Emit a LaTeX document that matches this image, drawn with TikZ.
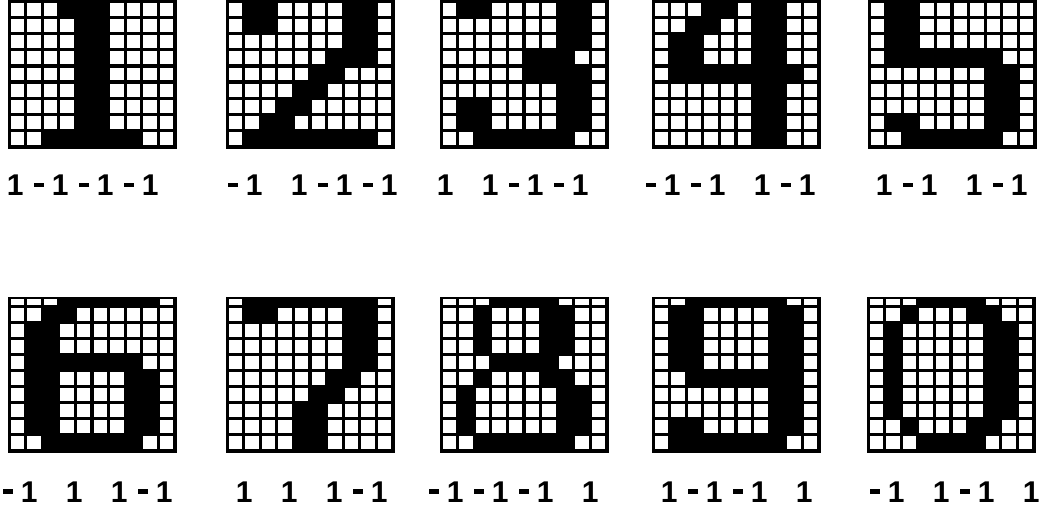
\documentclass[tikz,border=0pt]{standalone}
\usepackage{fontspec}
\setsansfont{Liberation Sans}
\newcommand\mn{\rule[8.5pt]{10pt}{4.2pt}}
\newcommand\pv{\makebox[45pt][r]{1}}
\newcommand\nv{\makebox[45pt][r]{\mn\hspace{7.5pt}1}}
\newcommand\digitgrid[5]{% #1 left, #2 top of row 1, #3 bg top, #4 bg bottom, #5 rows
  \fill[gridbg] ({#1-1.5},#3) rectangle ({#1+167.5},#4);
  \foreach \row [count=\r] in {#5} {
    \foreach \v [count=\c] in \row {
      \ifnum\v=0
        \fill[cellw] ({#1+(\c-1)*16.6+1.6},{#2+(\r-1)*16.1+1.6}) rectangle ({#1+\c*16.6-1.6},{#2+\r*16.1-1.6});
      \fi
    }
  }
}
\newcommand\partrow[2]{% #1 left, #2 pattern (row clipped at top)
  \foreach \v [count=\c] in {#2} {
    \ifnum\v=0
      \fill[cellw] ({#1+(\c-1)*16.6+1.6},299.0) rectangle ({#1+\c*16.6-1.6},304.6);
    \fi
  }
}
\tikzset{
  gridbg/.style={fill=black},
  cellw/.style={fill=white},
  lbl/.style={font=\sffamily\bfseries\fontsize{30}{30}\selectfont, inner sep=0pt, anchor=base west},
}
\begin{document}
\begin{tikzpicture}[x=1pt,y=-1pt]
\useasboundingbox (0,0) rectangle (1043,514);
\fill[white] (0,0) rectangle (1043,514);
\begin{scope}
\clip (0,0) rectangle (1043,514);
% ---- top row of grids (9 visible rows) ----
\digitgrid{9}{1.5}{-1}{148.5}{
 {0,0,0,1,1,1,0,0,0,0},{0,0,0,0,1,1,0,0,0,0},{0,0,0,0,1,1,0,0,0,0},
 {0,0,0,0,1,1,0,0,0,0},{0,0,0,0,1,1,0,0,0,0},{0,0,0,0,1,1,0,0,0,0},
 {0,0,0,0,1,1,0,0,0,0},{0,0,0,0,1,1,0,0,0,0},{0,0,1,1,1,1,1,1,0,0}}
\digitgrid{227}{1.5}{-1}{148.5}{
 {0,1,1,0,0,0,0,1,1,0},{0,1,1,0,0,0,0,1,1,0},{0,0,0,0,0,0,0,1,1,0},
 {0,0,0,0,0,0,1,1,1,0},{0,0,0,0,0,1,1,0,0,0},{0,0,0,0,1,1,0,0,0,0},
 {0,0,0,1,1,0,0,0,0,0},{0,0,1,1,0,0,0,0,0,0},{0,1,1,1,1,1,1,1,1,0}}
\digitgrid{441}{1.5}{-1}{148.5}{
 {0,1,1,0,0,0,0,1,1,0},{0,0,0,0,0,0,0,1,1,0},{0,0,0,0,0,0,0,1,1,0},
 {0,0,0,0,0,1,1,1,0,0},{0,0,0,0,0,1,1,1,1,0},{0,0,0,0,0,0,0,1,1,0},
 {0,1,1,0,0,0,0,1,1,0},{0,1,1,0,0,0,0,1,1,0},{0,0,1,1,1,1,1,1,0,0}}
\digitgrid{653}{1.5}{-1}{148.5}{
 {0,0,0,1,1,0,1,1,0,0},{0,0,1,1,0,0,1,1,0,0},{0,1,1,0,0,0,1,1,0,0},
 {0,1,1,0,0,0,1,1,0,0},{0,1,1,1,1,1,1,1,1,0},{0,0,0,0,0,0,1,1,0,0},
 {0,0,0,0,0,0,1,1,0,0},{0,0,0,0,0,0,1,1,0,0},{0,0,0,0,0,0,1,1,0,0}}
\digitgrid{869}{1.5}{-1}{148.5}{
 {0,1,1,0,0,0,0,0,0,0},{0,1,1,0,0,0,0,0,0,0},{0,1,1,0,0,0,0,0,0,0},
 {0,1,1,1,1,1,1,1,0,0},{0,0,0,0,0,0,0,1,1,0},{0,0,0,0,0,0,0,1,1,0},
 {0,0,0,0,0,0,0,1,1,0},{0,1,1,0,0,0,0,1,1,0},{0,0,1,1,1,1,1,1,0,0}}
% ---- bottom row of grids (clipped top row + 9 rows) ----
\digitgrid{9}{306}{297}{452.6}{
 {0,0,1,1,0,0,0,0,0,0},{0,1,1,0,0,0,0,0,0,0},{0,1,1,0,0,0,0,0,0,0},
 {0,1,1,1,1,1,1,1,0,0},{0,1,1,0,0,0,0,1,1,0},{0,1,1,0,0,0,0,1,1,0},
 {0,1,1,0,0,0,0,1,1,0},{0,1,1,0,0,0,0,1,1,0},{0,0,1,1,1,1,1,1,0,0}}
\partrow{9}{0,0,0,1,1,1,1,1,1,0}
\digitgrid{227}{306}{297}{452.6}{
 {0,1,1,0,0,0,0,1,1,0},{0,0,0,0,0,0,0,1,1,0},{0,0,0,0,0,0,0,1,1,0},
 {0,0,0,0,0,0,0,1,1,0},{0,0,0,0,0,0,1,1,0,0},{0,0,0,0,0,1,1,0,0,0},
 {0,0,0,0,1,1,0,0,0,0},{0,0,0,0,1,1,0,0,0,0},{0,0,0,0,1,1,0,0,0,0}}
\partrow{227}{0,1,1,1,1,1,1,1,1,0}
\digitgrid{441}{306}{297}{452.6}{
 {0,0,1,0,0,0,1,1,0,0},{0,0,1,0,0,0,1,1,0,0},{0,0,1,0,0,0,1,1,0,0},
 {0,0,0,1,1,1,1,0,0,0},{0,0,1,0,0,0,1,1,0,0},{0,1,0,0,0,0,0,1,1,0},
 {0,1,0,0,0,0,0,1,1,0},{0,1,0,0,0,0,0,1,1,0},{0,0,1,1,1,1,1,1,0,0}}
\partrow{441}{0,0,0,1,1,1,1,0,0,0}
\digitgrid{653}{306}{297}{452.6}{
 {0,1,1,0,0,0,0,1,1,0},{0,1,1,0,0,0,0,1,1,0},{0,1,1,0,0,0,0,1,1,0},
 {0,1,1,0,0,0,0,1,1,0},{0,0,1,1,1,1,1,1,1,0},{0,0,0,0,0,0,0,1,1,0},
 {0,0,0,0,0,0,0,1,1,0},{0,1,1,0,0,0,0,1,1,0},{0,1,1,1,1,1,1,1,0,0}}
\partrow{653}{0,0,1,1,1,1,1,1,0,0}
\digitgrid{868}{306}{297}{452.6}{
 {0,0,1,0,0,0,1,1,0,0},{0,1,0,0,0,0,0,1,1,0},{0,1,0,0,0,0,0,1,1,0},
 {0,1,0,0,0,0,0,1,1,0},{0,1,0,0,0,0,0,1,1,0},{0,1,0,0,0,0,0,1,1,0},
 {0,1,0,0,0,0,0,1,1,0},{0,0,1,0,0,0,1,1,0,0},{0,0,0,1,1,1,1,0,0,0}}
\partrow{868}{0,0,0,1,1,1,1,0,0,0}
\end{scope}
% ---- codes (4 slots of 45pt; digit centres given by d0) ----
\node[lbl] (c1) at ({15+8.3-45},195.5) {\pv\nv\nv\nv};
\node[lbl] (c2) at ({254+8.3-45},195.5) {\nv\pv\nv\nv};
\node[lbl] (c3) at ({445+8.3-45},195.5) {\pv\pv\nv\nv};
\node[lbl] (c4) at ({672+8.3-45},195.5) {\nv\nv\pv\nv};
\node[lbl] (c5) at ({884+8.3-45},195.5) {\pv\nv\pv\nv};
\node[lbl] (c6) at ({29+8.3-45},502) {\nv\pv\pv\nv};
\node[lbl] (c7) at ({244+8.3-45},502) {\pv\pv\pv\nv};
\node[lbl] (c8) at ({455+8.3-45},502) {\nv\nv\nv\pv};
\node[lbl] (c9) at ({669+8.3-45},502) {\pv\nv\nv\pv};
\node[lbl] (c10) at ({896+8.3-45},502) {\nv\pv\nv\pv};
\end{tikzpicture}
\end{document}
